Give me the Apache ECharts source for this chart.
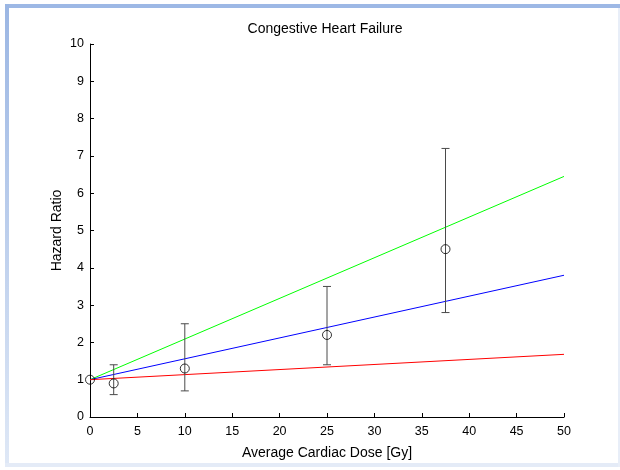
<!DOCTYPE html>
<html><head><meta charset="utf-8">
<script src="https://cdn.jsdelivr.net/npm/echarts@6/dist/echarts.min.js"></script>
<style>
html,body{margin:0;padding:0;background:#fff;}
#wrap{position:relative;width:620px;height:470px;overflow:hidden;background:#fff;}
#fTop{position:absolute;left:5px;top:4px;width:615px;height:4px;background:#9db8e5;}
#fLeft{position:absolute;left:5px;top:4px;width:4px;height:463px;background:linear-gradient(#9bb6e3,#dfe8f6);}
#fBot{position:absolute;left:5px;top:463px;width:615px;height:4px;background:#e4ebf7;}
#fRight{position:absolute;left:618px;top:8px;width:2px;height:459px;background:#e8eef8;}
#chart{position:absolute;left:0;top:0;width:620px;height:470px;}
</style></head>
<body><div id="wrap"><div id="fTop"></div><div id="fLeft"></div><div id="fBot"></div><div id="fRight"></div><div id="chart"></div></div>
<script>
const doses = [0, 2.5, 10, 25, 37.5];
const hazard = [1.0, 0.9, 1.3, 2.2, 4.5];
const errLow = [null, 0.6, 0.7, 1.4, 2.8];
const errHigh = [null, 1.4, 2.5, 3.5, 7.2];
const fitX = [0, 50];
const fitGreen = [1.0, 6.45];
const fitBlue = [1.0, 3.8];
const fitRed = [1.0, 1.68];
const xTicks = [0,5,10,15,20,25,30,35,40,45,50];
const yTicks = [0,1,2,3,4,5,6,7,8,9,10];

const FONT = 'Liberation Sans';
const chart = echarts.init(document.getElementById('chart'), null, {renderer:'canvas'});

const errData = doses.map((d,i)=>[d, errLow[i], errHigh[i]]).filter(r=>r[1]!==null);
const pts = doses.map((d,i)=>[d, hazard[i]]);
const mk = arr => fitX.map((x,i)=>[x, arr[i]]);

chart.setOption({
  backgroundColor: 'transparent',
  animation: false,
  graphic: [{type: 'text', x: 325, y: 22, z: 10,
    style: {text: 'Congestive Heart Failure', align: 'center', verticalAlign: 'top',
      font: '14px "Liberation Sans"', fill: '#000'}}],
  grid: {left: 90, right: 56, top: 44, bottom: 53},
  xAxis: {type: 'value', min: 0, max: 50, interval: 5,
    name: 'Average Cardiac Dose [Gy]', nameLocation: 'middle', nameGap: 29,
    nameTextStyle: {fontFamily: FONT, fontSize: 14, color: '#000'},
    axisLine: {show: true, onZero: false, lineStyle: {color: '#000', width: 1}},
    axisTick: {show: true, inside: true, length: 4, lineStyle: {color: '#000'}},
    axisLabel: {fontFamily: FONT, fontSize: 12.5, color: '#000', margin: 8},
    splitLine: {show: false}},
  yAxis: {type: 'value', min: 0, max: 10, interval: 1,
    name: 'Hazard Ratio', nameLocation: 'middle', nameGap: 26, nameRotate: 90,
    nameMoveOverlap: false,
    nameTextStyle: {fontFamily: FONT, fontSize: 14, color: '#000'},
    axisLine: {show: true, onZero: false, lineStyle: {color: '#000', width: 1}},
    axisTick: {show: true, inside: true, length: 4, lineStyle: {color: '#000'}},
    axisLabel: {fontFamily: FONT, fontSize: 12.5, color: '#000', margin: 6},
    splitLine: {show: false}},
  series: [
    {type: 'line', data: mk(fitGreen), symbol: 'none', lineStyle: {color: '#00ff00', width: 1}, z: 2},
    {type: 'line', data: mk(fitBlue), symbol: 'none', lineStyle: {color: '#0000ff', width: 1}, z: 2},
    {type: 'line', data: mk(fitRed), symbol: 'none', lineStyle: {color: '#ff0000', width: 1}, z: 2},
    {type: 'custom', data: errData, z: 3,
      renderItem: function(params, api){
        const x = api.value(0);
        const lo = api.coord([x, api.value(1)]);
        const hi = api.coord([x, api.value(2)]);
        const w = 4;
        const st = {stroke: '#4a4a4a', lineWidth: 1};
        return {type: 'group', children: [
          {type: 'line', shape: {x1: lo[0], y1: lo[1], x2: hi[0], y2: hi[1]}, style: st},
          {type: 'line', shape: {x1: lo[0]-w, y1: lo[1], x2: lo[0]+w, y2: lo[1]}, style: st},
          {type: 'line', shape: {x1: hi[0]-w, y1: hi[1], x2: hi[0]+w, y2: hi[1]}, style: st}
        ]};
      }},
    {type: 'scatter', data: pts, symbol: 'circle', symbolSize: 9, z: 4,
      itemStyle: {color: 'rgba(0,0,0,0)', borderColor: '#000', borderWidth: 1}}
  ]
});
</script></body></html>
